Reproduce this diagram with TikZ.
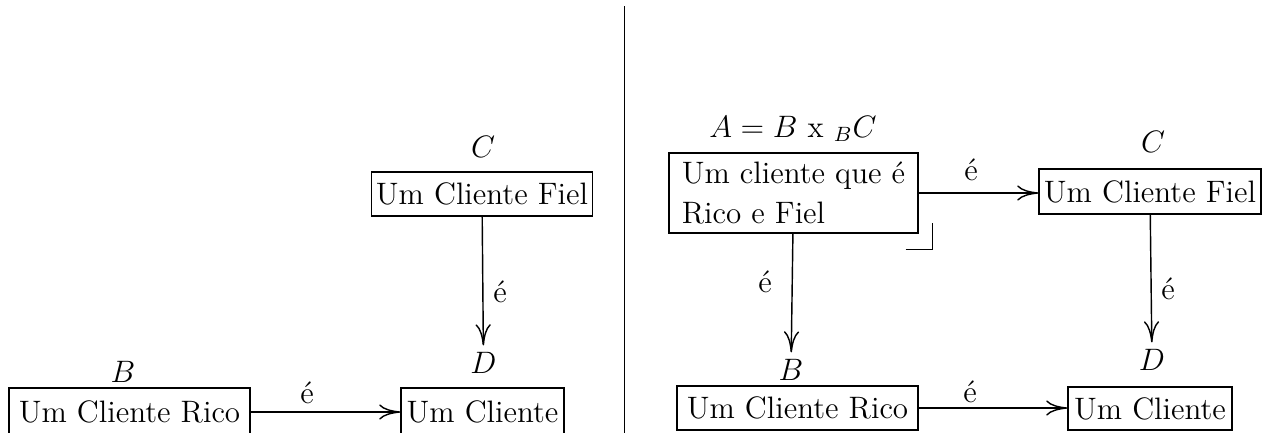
\documentclass[tikz,border=0pt]{standalone}
\usetikzlibrary{arrows.meta,calc}
\begin{document}
\begin{tikzpicture}[x=0.387pt,y=-0.387pt,
  font=\fontsize{12}{14.5}\selectfont,
  box/.style={draw, line width=0.5pt, inner sep=0pt, minimum height=17pt},
  obj/.style={inner sep=2.5pt},
  rel/.style={inner sep=0pt},
  arr/.style={line width=0.55pt, -{Computer Modern Rightarrow[length=8.2pt,width=5.9pt]}}]
\useasboundingbox (0,0) rectangle (1272,432);

% left diagram (its lower row runs past the bottom edge)
\node[box, minimum width=85.4pt] (lC) at (482,194) {Um Cliente Fiel};
\node[box, minimum width=63.1pt, minimum height=18.6pt] (lD) at (482.5,412) {Um Cliente};
\node[box, minimum width=93.3pt, minimum height=18.6pt] (lB) at (129.5,412) {Um Cliente Rico};
\node[obj] (lClab) at (483,147) {$C$};
\node[obj] (lDlab) at (483.5,363) {$D$};
\node[obj] (lBlab) at (123,372) {$B$};
\draw[arr] (lB) -- (lD);
\draw[arr] (lC) -- (lDlab);
\node[rel] (e1) at (307,393) {é};
\node[rel] (e2) at (500,292) {é};

% divider
\coordinate (top) at (624.5,6);
\coordinate (bot) at (624.5,440);
\draw[line width=0.55pt] (top) -- (bot);

% right diagram
\node[box, minimum width=96.4pt, minimum height=31pt, align=left] (rA) at (793.5,193)
  {Um cliente que é\\[1pt]Rico e Fiel};
\node[box, minimum width=85.9pt, minimum height=17.4pt] (rC) at (1150,191.5) {Um Cliente Fiel};
\node[box, minimum width=63.5pt, minimum height=16.6pt] (rD) at (1150,408.5) {Um Cliente};
\node[box, minimum width=93.3pt] (rB) at (797.5,408) {Um Cliente Rico};
\node[obj] (rAlab) at (793,129) {$A = B$ x $_BC$};
\node[obj] (rClab) at (1153,142) {$C$};
\node[obj] (rDlab) at (1152,360) {$D$};
\node[obj] (rBlab) at (791,370) {$B$};
\draw[arr] (rA.east) -- (rA.east -| rC.west);
\draw[arr] (rA) -- (rBlab);
\draw[arr] (rC) -- (rDlab);
\draw[arr] (rB.east) -- (rB.east -| rD.west);
\draw[line width=0.5pt] ($(rA.south east)+(-13,16)$) -- ($(rA.south east)+(14,16)$) -- ($(rA.south east)+(14,-11)$);
\node[rel] (e3) at (765,282) {é};
\node[rel] (e4) at (971,170) {é};
\node[rel] (e5) at (1168,289) {é};
\node[rel] (e6) at (970,392) {é};
\end{tikzpicture}
\end{document}
